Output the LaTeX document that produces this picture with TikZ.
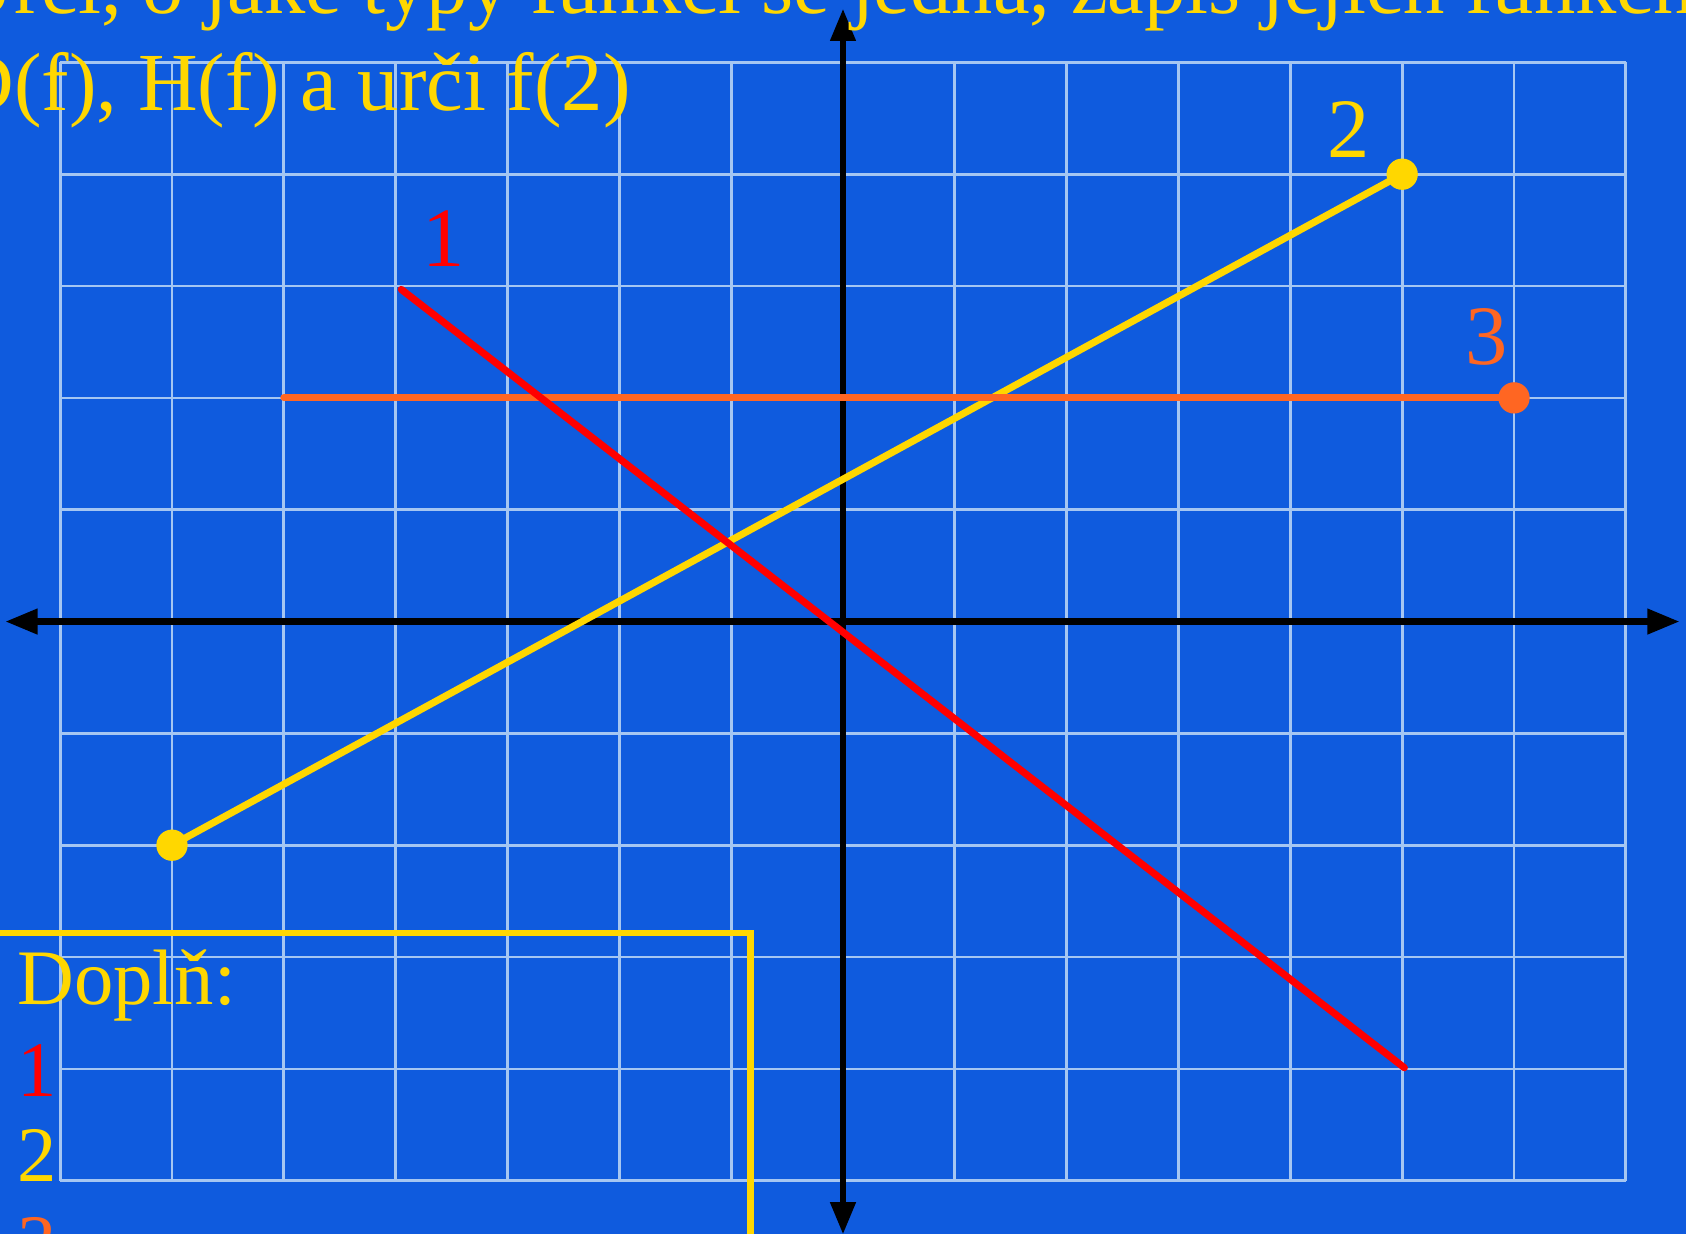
\documentclass[tikz,border=0pt]{standalone}
\usepackage{fontspec}
\setmainfont{Liberation Serif}
\usetikzlibrary{arrows.meta}
\definecolor{bg}{RGB}{15,91,222}
\definecolor{gridc}{RGB}{165,198,242}
\definecolor{yel}{RGB}{255,215,0}
\definecolor{org}{RGB}{255,102,34}
\definecolor{redl}{RGB}{255,0,0}
\begin{document}
\begin{tikzpicture}[x=1cm,y=1cm,
  gridline/.style={draw=gridc,line width=0.7pt},
  axisline/.style={line width=1.6pt, draw=black,
    {Triangle[length=8.2pt,width=6.2pt]}-{Triangle[length=8.2pt,width=6.2pt]}},
  graphline/.style={line width=1.8pt, line cap=round},
  dotnode/.style={circle, inner sep=0pt, minimum size=0.28cm},
  lbl/.style={font=\fontsize{21.5}{25}\selectfont, anchor=base, inner sep=0pt},
  titletext/.style={font=\fontsize{21}{25}\selectfont, anchor=base west, inner sep=0pt, text=yel},
  boxtext/.style={font=\fontsize{20}{24}\selectfont, anchor=base west, inner sep=0pt},
]
\fill[bg] (-7.538,-5.476) rectangle (7.538,5.558);
\useasboundingbox (-7.538,-5.476) rectangle (7.538,5.558);
% grid
\draw[gridline] (-7,-5) grid (7,5);
% axes
\coordinate (xl) at (-7.49,0);
\coordinate (xr) at (7.48,0);
\coordinate (yb) at (0,-5.48);
\coordinate (yt) at (0,5.48);
\draw[axisline] (xl) -- (xr);
\draw[axisline] (yb) -- (yt);
% graph 2 (yellow)
\coordinate (y1) at (-6,-2);
\coordinate (y2) at (5,4);
\draw[graphline, draw=yel] (y1) -- (y2);
\node[dotnode, fill=yel] (dy1) at (y1) {};
\node[dotnode, fill=yel] (dy2) at (y2) {};
% graph 3 (orange)
\coordinate (o1) at (-5,2);
\coordinate (o2) at (6,2);
\draw[graphline, draw=org] (o1) -- (o2);
\node[dotnode, fill=org] (do2) at (o2) {};
% graph 1 (red)
\coordinate (r1) at (-3.95,2.97);
\coordinate (r2) at (5.02,-3.99);
\draw[graphline, draw=redl] (r1) -- (r2);
% labels
\node[lbl, text=redl] (l1) at (-3.572,3.171) {1};
\node[lbl, text=yel] (l2) at (4.519,4.152) {2};
\node[lbl, text=org] (l3) at (5.756,2.295) {3};
% title
\node[titletext] (t1) at (-7.95,5.433) {Urči, o jaké typy funkcí se jedná, zápis jejich funkční předpis,};
\node[titletext] (t2) at (-7.95,4.568) {D(f), H(f) a urči f(2)};
% box
\coordinate (bxa) at (-7.8,-5.7);
\coordinate (bxb) at (-0.827,-2.782);
\draw[draw=yel, line width=1.6pt] (bxa) rectangle (bxb);
\node[boxtext, text=yel] (bt0) at (-7.388,-3.428) {Doplň:};
\node[boxtext, text=redl] (bt1) at (-7.388,-4.248) {1};
\node[boxtext, text=yel] (bt2) at (-7.388,-5.006) {2};
\node[boxtext, text=org] (bt3) at (-7.388,-5.79) {3};
\end{tikzpicture}
\end{document}
